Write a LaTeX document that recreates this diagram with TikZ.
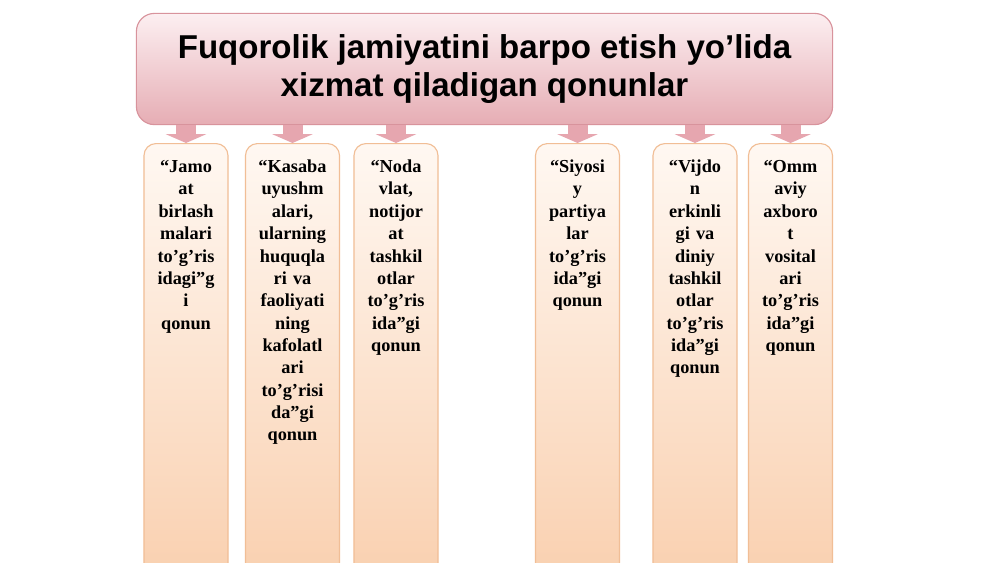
\documentclass[tikz,border=0pt]{standalone}
\usepackage{fontspec}
\setmainfont{Liberation Serif}
\newfontfamily\titlefont{Liberation Sans}
\usetikzlibrary{arrows.meta}
\definecolor{titletop}{HTML}{FCEFF1}
\definecolor{titlebot}{HTML}{E6ADB4}
\definecolor{titleline}{HTML}{D8939C}
\definecolor{lawtop}{HTML}{FFF8F2}
\definecolor{lawbot}{HTML}{F9CFAE}
\definecolor{lawline}{HTML}{F1BE96}
\definecolor{arrowpink}{HTML}{E6A6AF}

\begin{document}
\begin{tikzpicture}[x=0.025cm,y=-0.025cm,
  title/.style={draw=titleline,line width=0.8pt,rounded corners=0.45cm,
    top color=titletop,bottom color=titlebot,minimum width=17.4cm,
    minimum height=2.78cm,align=center,
    font=\titlefont\bfseries\fontsize{23.5pt}{27.3pt}\selectfont},
  law/.style={draw=lawline,line width=0.8pt,rounded corners=0.3cm,
    top color=lawtop,bottom color=lawbot,anchor=north,align=center,
    text width=1.9cm,inner xsep=0.1cm,inner ysep=0.325cm,
    text height=0.4cm,text depth=10.1cm,
    font=\bfseries\fontsize{13pt}{15.9pt}\selectfont},
  down/.style={line width=0.5cm,draw=arrowpink,
    -{Triangle[width=1cm,length=0.22cm]}}]
  \useasboundingbox (0,0) rectangle (1000,562);
  \clip (0,0) rectangle (1000,562);
  \fill[white] (0,0) rectangle (1000,562);

  \node[title] (main) at (484.5,69) {Fuqorolik jamiyatini barpo etish yo’lida\\xizmat qiladigan qonunlar};

  \node[law] (c1) at (186,143) {“Jamo\\at\\birlash\\malari\\to’g’ris\\idagi”g\\i\\qonun};
  \node[law,text width=2.15cm] (c2) at (292.5,143) {“Kasaba\\uyushm\\alari,\\ularning\\huquqla\\ri va\\faoliyati\\ning\\kafolatl\\ari\\to’g’risi\\da”gi\\qonun};
  \node[law] (c3) at (396,143) {“Noda\\vlat,\\notijor\\at\\tashkil\\otlar\\to’g’ris\\ida”gi\\qonun};
  \node[law] (c4) at (577.5,143) {“Siyosi\\y\\partiya\\lar\\to’g’ris\\ida”gi\\qonun};
  \node[law] (c5) at (695,143) {“Vijdo\\n\\erkinli\\gi va\\diniy\\tashkil\\otlar\\to’g’ris\\ida”gi\\qonun};
  \node[law] (c6) at (790.5,143) {“Omm\\aviy\\axboro\\t\\vosital\\ari\\to’g’ris\\ida”gi\\qonun};

  \foreach \c in {c1,c2,c3,c4,c5,c6}
    \draw[down] (main.south -| \c) -- (\c.north);
\end{tikzpicture}
\end{document}
